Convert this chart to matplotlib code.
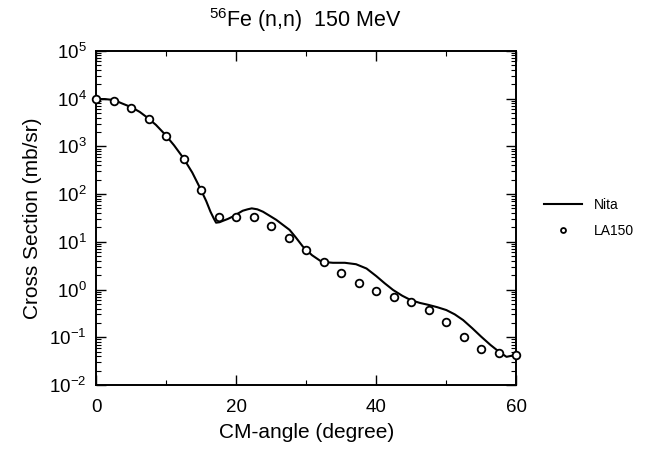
import matplotlib
matplotlib.use("Agg")
import matplotlib.pyplot as plt
import numpy as np
from matplotlib.ticker import LogLocator, MultipleLocator, NullFormatter

plt.rcParams["font.family"] = ["Liberation Sans", "DejaVu Sans"]
plt.rcParams["mathtext.fontset"] = "custom"
plt.rcParams["mathtext.rm"] = "Liberation Sans"
plt.rcParams["mathtext.it"] = "Liberation Sans:italic"

# LA150 evaluation points (angle in degrees, log10 cross section)
la150_angle = [0, 2.5, 5, 7.5, 10, 12.5, 15, 17.5, 20, 22.5, 25, 27.5, 30,
               32.5, 35, 37.5, 40, 42.5, 45, 47.5, 50, 52.5, 55, 57.5, 60]
la150_log = [3.99, 3.95, 3.81, 3.57, 3.22, 2.73, 2.08, 1.51, 1.52, 1.51, 1.33, 1.07, 0.83,
             0.57, 0.35, 0.14, -0.04, -0.15, -0.26, -0.43, -0.69, -0.99, -1.24, -1.33, -1.37]

# Nita calculation curve
nita_angle = [0, 1.2, 2.5, 3.8, 5.0, 6.2, 7.2, 8.5, 9.8, 11.1, 12.4, 13.7, 14.9, 15.7, 16.3,
              16.8, 17.1, 17.6, 18.1, 18.8, 19.5, 20.2, 20.9, 21.6, 22.2, 23.0, 23.8, 24.7,
              25.7, 26.6, 27.6, 28.5, 29.5, 30.8, 32.2, 33.8, 35.5, 37.1, 38.6, 40.0, 41.2,
              42.4, 43.7, 44.9, 46.2, 47.4, 48.7, 50.0, 51.2, 52.4, 53.7, 55.0, 56.3, 57.5,
              58.6, 59.9]
nita_log = [3.99, 3.99, 3.97, 3.89, 3.82, 3.72, 3.61, 3.45, 3.25, 3.02, 2.76, 2.45, 2.10,
            1.85, 1.63, 1.48, 1.40, 1.41, 1.44, 1.48, 1.53, 1.59, 1.65, 1.68, 1.70, 1.68,
            1.63, 1.55, 1.46, 1.36, 1.25, 1.09, 0.90, 0.72, 0.58, 0.56, 0.56, 0.53, 0.44,
            0.28, 0.13, -0.01, -0.13, -0.22, -0.28, -0.32, -0.37, -0.43, -0.52, -0.64,
            -0.81, -0.99, -1.16, -1.30, -1.41, -1.37]

la150_xs = 10.0 ** np.array(la150_log)
nita_xs = 10.0 ** np.array(nita_log)

fig = plt.figure(figsize=(6.47, 4.54), dpi=100)
ax = fig.add_axes([0.149, 0.152, 0.649, 0.736])

ax.plot(nita_angle, nita_xs, color="black", linewidth=1.5, label="Nita")
ax.plot(la150_angle, la150_xs, linestyle="none", marker="o", markersize=5.5,
        markerfacecolor="white", markeredgecolor="black", markeredgewidth=1.3,
        label="LA150", clip_on=False, zorder=3)

ax.set_yscale("log")
ax.set_xlim(0, 60)
ax.set_ylim(1e-2, 1e5)
ax.xaxis.set_major_locator(MultipleLocator(20))
ax.xaxis.set_minor_locator(MultipleLocator(10))
ax.yaxis.set_major_locator(LogLocator(base=10, numticks=20))
ax.yaxis.set_minor_locator(LogLocator(base=10, subs=np.arange(2, 10), numticks=20))
ax.yaxis.set_minor_formatter(NullFormatter())

ax.tick_params(which="both", direction="in", top=True, right=True, labelsize=13.5)
ax.tick_params(which="major", length=7, width=1)
ax.tick_params(which="minor", length=3.5, width=0.8)
ax.tick_params(axis="x", which="major", pad=10)
ax.tick_params(axis="y", which="major", pad=7)
for s in ax.spines.values():
    s.set_linewidth(1.4)

ax.set_xlabel("CM-angle (degree)", fontsize=15, labelpad=5)
ax.set_ylabel("Cross Section (mb/sr)", fontsize=15, labelpad=5)
fig.text(0.472, 0.956, r"$^{56}$Fe (n,n)  150 MeV", ha="center", va="center", fontsize=15.5)

ax.legend(loc="center left", bbox_to_anchor=(1.035, 0.5), frameon=False, fontsize=10,
          handlelength=2.8, markerscale=0.65, labelspacing=0.9, handletextpad=0.8)

fig.savefig("out.png", dpi=100)
